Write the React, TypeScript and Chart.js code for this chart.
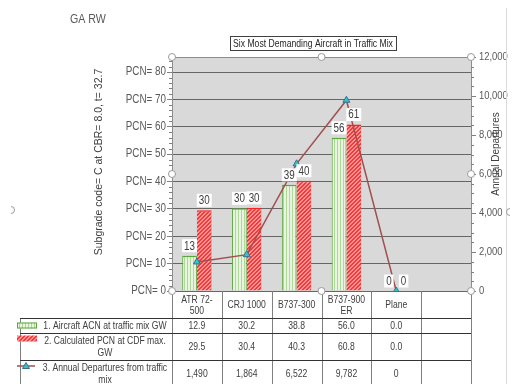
import React, { useEffect, useRef } from 'react';
import { Chart, registerables } from 'chart.js';

Chart.register(...registerables);

// ---- data ----
const categoryLines: string[][] = [['ATR 72-', '500'], ['CRJ 1000'], ['B737-300'], ['B737-900', 'ER'], ['Plane'], ['']];
const acnValues: (number | null)[] = [12.9, 30.2, 38.8, 56.0, 0.0, null];
const pcnValues: (number | null)[] = [29.5, 30.4, 40.3, 60.8, 0.0, null];
const departures: (number | null)[] = [1490, 1864, 6522, 9782, 0, null];
const seriesNames = ['1. Aircraft ACN at traffic mix GW', '2. Calculated PCN at CDF max. GW', '3. Annual Departures from traffic mix'];
const seriesNameLines: string[][] = [['1. Aircraft ACN at traffic mix GW'], ['2. Calculated PCN at CDF max.', 'GW'], ['3. Annual Departures from traffic', 'mix']];
const pageTitle = 'GA RW';
const chartTitle = 'Six Most Demanding Aircraft in Traffic Mix';
const leftAxisTitle = 'Subgrade code= C at CBR= 8.0, t= 32.7';
const rightAxisTitle = 'Annual Departures';
const pcnTickPrefix = 'PCN= ';

const REG = '"Liberation Sans", Arial, sans-serif';
const SX = 0.82; // horizontal condensing for narrow text

function txt(ctx: CanvasRenderingContext2D, t: string, x: number, y: number, size: number, align: CanvasTextAlign, color: string, sx = SX) {
  ctx.save();
  ctx.translate(x, y);
  ctx.scale(sx, 1);
  ctx.font = `${size}px ${REG}`;
  ctx.textAlign = align;
  ctx.textBaseline = 'middle';
  ctx.fillStyle = color;
  ctx.fillText(t, 0, 0);
  ctx.restore();
}
function txtW(ctx: CanvasRenderingContext2D, t: string, size: number, sx = SX) {
  ctx.save();
  ctx.font = `${size}px ${REG}`;
  const w = ctx.measureText(t).width * sx;
  ctx.restore();
  return w;
}

function makeGreen(): CanvasPattern | string {
  const c = document.createElement('canvas');
  c.width = 3; c.height = 3;
  const g = c.getContext('2d');
  if (!g) return '#c5e0b4';
  g.fillStyle = '#e8f4e0'; g.fillRect(0, 0, 3, 3);
  g.fillStyle = '#add898'; g.fillRect(1, 0, 1, 3);
  return g.createPattern(c, 'repeat') || '#c5e0b4';
}
function makeRed(): CanvasPattern | string {
  const c = document.createElement('canvas');
  c.width = 4; c.height = 4;
  const g = c.getContext('2d');
  if (!g) return '#ff6666';
  g.fillStyle = '#ff9a9a'; g.fillRect(0, 0, 4, 4);
  g.fillStyle = '#ff3535';
  for (let i = 0; i < 4; i++) { g.fillRect(i, 3 - i, 1, 1); g.fillRect((i + 1) % 4, 3 - i, 1, 1); }
  return g.createPattern(c, 'repeat') || '#ff6666';
}

function handle(ctx: CanvasRenderingContext2D, x: number, y: number, start = 0, end = Math.PI * 2) {
  ctx.save();
  ctx.beginPath();
  ctx.arc(x, y, 3.5, start, end);
  ctx.fillStyle = '#ffffff';
  if (end - start > 6) ctx.fill();
  ctx.strokeStyle = '#9a9a9a';
  ctx.lineWidth = 1;
  ctx.stroke();
  ctx.restore();
}

const bgPlugin = {
  id: 'bg',
  beforeDraw(chart: any) {
    const { ctx, chartArea: a } = chart;
    ctx.save();
    ctx.fillStyle = '#ffffff';
    ctx.fillRect(0, 0, chart.width, chart.height);
    ctx.fillStyle = '#d9d9d9';
    ctx.fillRect(a.left, a.top, a.right - a.left, a.bottom - a.top);
    ctx.restore();
  },
};

const labelPlugin = {
  id: 'barLabels',
  afterDatasetsDraw(chart: any) {
    const ctx = chart.ctx;
    chart.data.datasets.forEach((ds: any, di: number) => {
      if (ds.type !== 'bar') return;
      const meta = chart.getDatasetMeta(di);
      meta.data.forEach((el: any, i: number) => {
        const v = ds.data[i];
        if (v === null || v === undefined) return;
        const t = String(Math.round(v));
        const w = txtW(ctx, t, 12) + 4;
        const cy = el.y - 10;
        ctx.save();
        ctx.fillStyle = '#ffffff';
        ctx.fillRect(el.x - w / 2, cy - 6.5, w, 13);
        ctx.restore();
        txt(ctx, t, el.x, cy + 0.5, 12, 'center', '#404040');
      });
    });
  },
};

const decorPlugin = {
  id: 'decor',
  afterDraw(chart: any) {
    const ctx: CanvasRenderingContext2D = chart.ctx;
    const a = chart.chartArea;
    const xs = chart.scales.x;
    const yl = chart.scales.y;
    const yr = chart.scales.y1;
    ctx.save();

    // plot top border
    ctx.strokeStyle = '#8c8c8c';
    ctx.lineWidth = 1;
    ctx.beginPath();
    ctx.moveTo(a.left, a.top + 0.5); ctx.lineTo(a.right, a.top + 0.5);
    ctx.stroke();

    // minor ticks
    ctx.strokeStyle = '#808080';
    ctx.beginPath();
    for (let v = 2; v < 85; v += 2) {
      if (v % 10 === 0) continue;
      const y = Math.round(yl.getPixelForValue(v)) + 0.5;
      ctx.moveTo(a.left - 3, y); ctx.lineTo(a.left, y);
    }
    for (let v = 500; v < 12000; v += 500) {
      if (v % 2000 === 0) continue;
      const y = Math.round(yr.getPixelForValue(v)) + 0.5;
      ctx.moveTo(a.right, y); ctx.lineTo(a.right + 3, y);
    }
    ctx.stroke();

    // tick labels
    yl.ticks.forEach((t: any) => {
      txt(ctx, pcnTickPrefix + t.value, a.left - 6, yl.getPixelForValue(t.value), 12, 'right', '#595959');
    });
    yr.ticks.forEach((t: any) => {
      txt(ctx, Number(t.value).toLocaleString('en-US'), a.right + 8, yr.getPixelForValue(t.value), 11.5, 'left', '#595959');
    });

    // page title
    txt(ctx, pageTitle, 70, 19, 13, 'left', '#595959');

    // chart title box
    const tw = txtW(ctx, chartTitle, 10.5);
    const tcx = 313;
    ctx.fillStyle = '#ffffff';
    ctx.fillRect(tcx - tw / 2 - 3, 36.5, tw + 6, 14);
    ctx.strokeStyle = '#404040';
    ctx.strokeRect(Math.round(tcx - tw / 2 - 3) + 0.5, 36.5, Math.round(tw + 6), 14);
    txt(ctx, chartTitle, tcx, 44, 10.5, 'center', '#262626');

    // axis titles
    ctx.save();
    ctx.translate(99, 162);
    ctx.rotate(-Math.PI / 2);
    txt(ctx, leftAxisTitle, 0, 0, 10.5, 'center', '#404040', 1);
    ctx.restore();
    ctx.save();
    ctx.translate(496, 154);
    ctx.rotate(-Math.PI / 2);
    txt(ctx, rightAxisTitle, 0, 0, 10, 'center', '#404040', 1);
    ctx.restore();

    // data table
    const n = categoryLines.length;
    const bounds: number[] = [a.left];
    for (let i = 0; i < n - 1; i++) bounds.push((xs.getPixelForValue(i) + xs.getPixelForValue(i + 1)) / 2);
    bounds.push(a.right);
    const rowY = [a.bottom, a.bottom + 27, a.bottom + 42, a.bottom + 69, a.bottom + 96];
    const legendLeft = 20;

    ctx.strokeStyle = '#7f7f7f';
    ctx.lineWidth = 1;
    ctx.beginPath();
    bounds.forEach((bx) => {
      const x = Math.round(bx) + 0.5;
      ctx.moveTo(x, a.bottom); ctx.lineTo(x, chart.height);
    });
    ctx.moveTo(legendLeft + 0.5, rowY[1]); ctx.lineTo(legendLeft + 0.5, chart.height);
    ctx.stroke();

    ctx.strokeStyle = '#333333';
    ctx.beginPath();
    for (let r = 1; r <= 3; r++) {
      const y = Math.round(rowY[r]) + 0.5;
      ctx.moveTo(legendLeft, y); ctx.lineTo(a.right, y);
    }
    ctx.stroke();

    // header labels
    categoryLines.forEach((lines, i) => {
      const cx = xs.getPixelForValue(i);
      const mid = (rowY[0] + rowY[1]) / 2 + 1;
      lines.forEach((ln, k) => {
        txt(ctx, ln, cx, mid + (k - (lines.length - 1) / 2) * 11.5, 10.5, 'center', '#404040');
      });
    });

    // values rows
    const rowsData = [acnValues, pcnValues, departures];
    rowsData.forEach((vals, r) => {
      const mid = (rowY[r + 1] + rowY[r + 2]) / 2 + 0.5;
      vals.forEach((v, i) => {
        if (v === null) return;
        const t = r < 2 ? (v as number).toFixed(1) : (v as number).toLocaleString('en-US');
        txt(ctx, t, xs.getPixelForValue(i), mid, 10.5, 'center', '#404040');
      });
      const lines = seriesNameLines[r];
      lines.forEach((ln, k) => {
        txt(ctx, ln, 105, mid + (k - (lines.length - 1) / 2) * 11.5, 10.5, 'center', '#404040');
      });
    });

    // legend keys
    const k1 = (rowY[1] + rowY[2]) / 2;
    ctx.fillStyle = chart.data.datasets[1].backgroundColor;
    ctx.fillRect(17, k1 - 3, 20, 6);
    ctx.strokeStyle = '#5aa83c';
    ctx.strokeRect(17.5, k1 - 2.5, 19, 5);
    const k2 = rowY[2] + 5.5;
    ctx.fillStyle = chart.data.datasets[2].backgroundColor;
    ctx.fillRect(17, k2 - 3, 20, 6);
    const k3 = rowY[3] + 6;
    ctx.strokeStyle = '#a0504f';
    ctx.lineWidth = 1.5;
    ctx.beginPath(); ctx.moveTo(17, k3); ctx.lineTo(35, k3); ctx.stroke();
    ctx.lineWidth = 1;
    ctx.beginPath();
    ctx.moveTo(26, k3 - 3.5); ctx.lineTo(29.5, k3 + 2.5); ctx.lineTo(22.5, k3 + 2.5); ctx.closePath();
    ctx.fillStyle = '#2ec7c9'; ctx.fill();
    ctx.strokeStyle = '#3b6e8f'; ctx.stroke();

    // outer chart border and selection handles
    ctx.strokeStyle = '#d9d9d9';
    ctx.beginPath(); ctx.moveTo(506.5, 8); ctx.lineTo(506.5, chart.height); ctx.stroke();
    const mx = (a.left + a.right) / 2, my = (a.top + a.bottom) / 2;
    [[a.left, a.top], [mx, a.top], [a.right, a.top], [a.left, my], [a.right, my], [a.left, a.bottom], [mx, a.bottom], [a.right, a.bottom]].forEach(([x, y]) => handle(ctx, x, y));
    handle(ctx, 510, 212, Math.PI / 2, Math.PI * 1.5);
    handle(ctx, 11, 210, -Math.PI / 2, Math.PI / 2);

    ctx.restore();
  },
};

export default function App() {
  const ref = useRef<HTMLCanvasElement>(null);
  useEffect(() => {
    document.body.style.margin = '0';
    const canvas = ref.current;
    if (!canvas) return;
    const green = makeGreen();
    const red = makeRed();
    const chart = new Chart(canvas, {
      type: 'bar',
      data: {
        labels: categoryLines.map((l) => l.join(' ')),
        datasets: [
          {
            type: 'line',
            label: seriesNames[2],
            data: departures,
            yAxisID: 'y1',
            borderColor: '#a0504f',
            borderWidth: 1.5,
            pointStyle: 'triangle',
            pointRadius: 4,
            pointBackgroundColor: '#2ec7c9',
            pointBorderColor: '#3b6e8f',
            pointBorderWidth: 1,
            tension: 0,
            order: 0,
          } as any,
          {
            type: 'bar',
            label: seriesNames[0],
            data: acnValues,
            yAxisID: 'y',
            backgroundColor: green,
            borderColor: '#5aa83c',
            borderWidth: { top: 1.5, left: 1, right: 1, bottom: 0 },
            categoryPercentage: 0.59,
            barPercentage: 1,
            order: 1,
          } as any,
          {
            type: 'bar',
            label: seriesNames[1],
            data: pcnValues,
            yAxisID: 'y',
            backgroundColor: red,
            borderColor: '#ff2020',
            borderWidth: { top: 1.5, left: 0, right: 0, bottom: 0 },
            categoryPercentage: 0.59,
            barPercentage: 1,
            order: 2,
          } as any,
        ],
      },
      options: {
        responsive: false,
        animation: false,
        devicePixelRatio: 1,
        layout: { padding: { top: 57, left: 0, right: 0, bottom: 0 } },
        plugins: { legend: { display: false }, tooltip: { enabled: false }, title: { display: false } },
        scales: {
          x: {
            grid: { display: false },
            border: { display: false },
            ticks: { display: false },
            afterFit: (s: any) => { s.height = 93; },
          },
          y: {
            position: 'left',
            min: 0,
            max: 85.5,
            afterBuildTicks: (s: any) => { s.ticks = s.ticks.filter((t: any) => t.value % 10 === 0); },
            ticks: { stepSize: 10, display: false },
            grid: { color: '#666666', tickLength: 5, tickColor: '#808080', lineWidth: 1 },
            border: { color: '#8c8c8c' },
            afterFit: (s: any) => { s.width = 172; },
          },
          y1: {
            position: 'right',
            min: 0,
            max: 12000,
            ticks: { stepSize: 2000, display: false },
            grid: { drawOnChartArea: false, tickLength: 5, color: '#808080' },
            border: { color: '#8c8c8c' },
            afterFit: (s: any) => { s.width = 43; },
          },
        },
      },
      plugins: [bgPlugin, labelPlugin, decorPlugin],
    });
    return () => chart.destroy();
  }, []);
  return <canvas ref={ref} width={514} height={384} style={{ display: 'block' }} />;
}
